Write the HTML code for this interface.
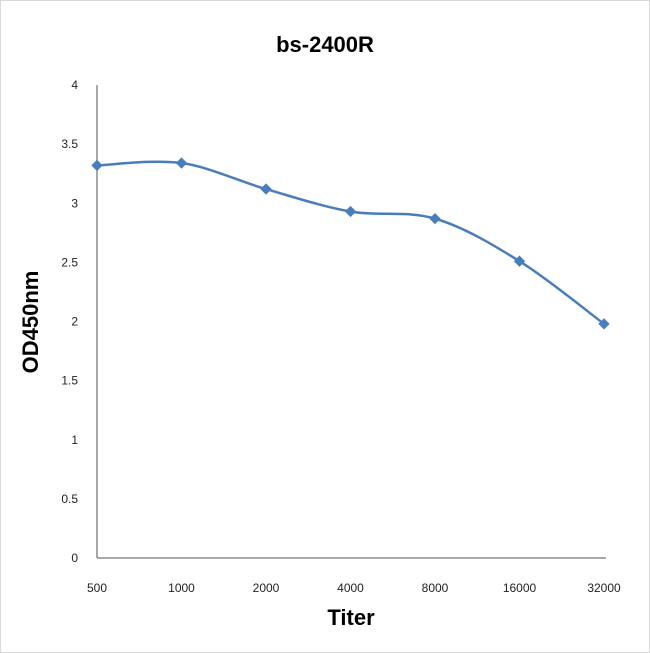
<!DOCTYPE html>
<html><head><meta charset="utf-8"><style>
body{margin:0;background:#fff}
svg{display:block}
text{font-family:"Liberation Sans",sans-serif}
</style></head><body>
<svg id="chart" width="650" height="653">
<rect x="0.5" y="0.5" width="649" height="652" fill="#fff" stroke="#d9d9d9"/>
<text x="325" y="52" text-anchor="middle" font-size="22" font-weight="bold" fill="#000">bs-2400R</text>
<text x="0" y="0" transform="translate(38,322) rotate(-90)" text-anchor="middle" font-size="22" font-weight="bold">OD450nm</text>
<text x="351" y="625" text-anchor="middle" font-size="22" font-weight="bold">Titer</text>
<g id="axes"></g>
<g id="marks"></g>
</svg>
<script>
const categories=["500","1000","2000","4000","8000","16000","32000"];
const values=[3.32,3.34,3.12,2.93,2.87,2.51,1.98];
const yTicks=[0,0.5,1,1.5,2,2.5,3,3.5,4];
const NS="http://www.w3.org/2000/svg";
const x0=97,x1=604,yBase=558,yTop=85;
function xs(i){return x0+i*(x1-x0)/(categories.length-1);}
function ys(v){return yBase-(v/4)*(yBase-yTop);}
const axes=document.getElementById('axes'),marks=document.getElementById('marks');
function mk(t,a,p){const e=document.createElementNS(NS,t);for(const k in a)e.setAttribute(k,a[k]);p.appendChild(e);return e;}
let l=mk('line',{x1:x0,y1:yTop,x2:x0,y2:yBase,stroke:'#8c8c8c','stroke-width':1.5},axes);


l=mk('line',{x1:x0,y1:yBase,x2:x1+2,y2:yBase,stroke:'#8c8c8c','stroke-width':1.5},axes);


yTicks.forEach(v=>{const t=mk('text',{x:78,y:ys(v)+4,'text-anchor':'end','font-size':12,fill:'#222'},axes);t.textContent=String(v);

});
categories.forEach((c,i)=>{const t=mk('text',{x:xs(i),y:592,'text-anchor':'middle','font-size':12,fill:'#222'},axes);t.textContent=c;

});
const pts=values.map((v,i)=>[xs(i),ys(v)]);
let d='M'+pts[0][0]+','+pts[0][1];
for(let i=0;i<pts.length-1;i++){const p0=pts[Math.max(0,i-1)],p1=pts[i],p2=pts[i+1],p3=pts[Math.min(pts.length-1,i+2)];const k=1/6;
d+=' C'+(p1[0]+(p2[0]-p0[0])*k)+','+(p1[1]+(p2[1]-p0[1])*k)+' '+(p2[0]-(p3[0]-p1[0])*k)+','+(p2[1]-(p3[1]-p1[1])*k)+' '+p2[0]+','+p2[1];}
const path=mk('path',{d:d,fill:'none',stroke:'#4a7ebb','stroke-width':2.5},marks);


pts.forEach((p,i)=>{const m=mk('rect',{x:p[0]-4,y:p[1]-4,width:8,height:8,fill:'#4a7ebb',transform:'rotate(45 '+p[0]+' '+p[1]+')'},marks);

});
</script>
</body></html>
